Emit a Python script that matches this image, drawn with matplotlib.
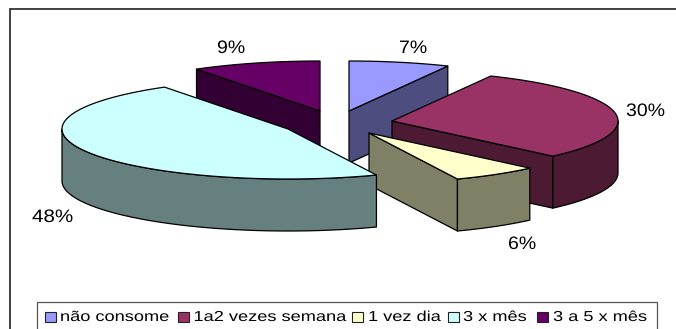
import numpy as np
import matplotlib
matplotlib.use("Agg")
import matplotlib.pyplot as plt
from matplotlib.patches import Polygon, Rectangle
from matplotlib.patheffects import AbstractPathEffect
from matplotlib.transforms import Affine2D

categories = ["não consome", "1a2 vezes semana", "1 vez dia", "3 x mês", "3 a 5 x mês"]
values = [7.2, 30.2, 6.2, 47.2, 9.2]
value_labels = ["7%", "30%", "6%", "48%", "9%"]

top_colors = ["#9999FF", "#993366", "#FFFFCC", "#CCFFFF", "#660066"]
side_colors = ["#4D4D80", "#4D1A33", "#808066", "#668080", "#330033"]

# layout, in pixels of the 676x329 picture
centers = [(349, 111), (392, 121), (369, 133), (288, 129), (320, 111)]
label_pos = [(399, 53), (626, 116), (508, 249), (32, 222), (217, 53)]
legend_swatch_x = [45, 178, 352, 448, 537]
legend_text_x = [60, 193.5, 368, 463, 553]
label_stretch = [1.08, 1.08, 1.08, 1.14, 1.08]
legend_stretch = [1.26, 1.26, 1.26, 1.26, 1.26]
RX, RY, DEPTH = 226, 50, 52


class StretchX(AbstractPathEffect):
    def __init__(self, sx):
        super().__init__()
        self.sx = sx

    def draw_path(self, renderer, gc, tpath, affine, rgbFace=None):
        renderer.draw_path(gc, tpath, Affine2D().scale(self.sx, 1) + affine, rgbFace)


plt.rcParams["font.family"] = ["Liberation Sans", "DejaVu Sans"]
fig = plt.figure(figsize=(6.76, 3.29), dpi=100, facecolor="white")
ax = fig.add_axes([0, 0, 1, 1])
ax.set_xlim(0, 676)
ax.set_ylim(329, 0)
ax.axis("off")

# chart frame: top and left only
ax.plot([676, 10, 10], [9, 9, 329], color="#333333", lw=1.3, solid_joinstyle="miter", zorder=1)


def pt(c, deg, dy=0.0):
    a = np.radians(deg)
    return c[0] + RX * np.sin(a), c[1] - RY * np.cos(a) + dy


def arc(c, a0, a1, dy=0.0):
    n = max(int(abs(a1 - a0)), 2) + 1
    return [pt(c, d, dy) for d in np.linspace(a0, a1, n)]


edge = dict(edgecolor="black", linewidth=0.9, joinstyle="round")
total = sum(values)
starts = np.cumsum([0] + values[:-1]) / total * 360
ends = np.cumsum(values) / total * 360
draw_order = [4, 0, 1, 2, 3]
z = 2
for i in draw_order:
    c, a0, a1 = centers[i], starts[i], ends[i]
    low = (c[0], c[1] + DEPTH)
    # radial cut faces that look towards the viewer
    if 180 < a0 < 360:
        ax.add_patch(Polygon([c, pt(c, a0), pt(c, a0, DEPTH), low], facecolor=side_colors[i], zorder=z, **edge))
    if 0 < a1 < 180:
        ax.add_patch(Polygon([c, pt(c, a1), pt(c, a1, DEPTH), low], facecolor=side_colors[i], zorder=z, **edge))
    # outer wall on the front half of the ellipse
    f0, f1 = max(a0, 90), min(a1, 270)
    if f1 > f0:
        ax.add_patch(Polygon(arc(c, f0, f1) + arc(c, f1, f0, DEPTH), facecolor=side_colors[i], zorder=z, **edge))
    # top face
    ax.add_patch(Polygon([c] + arc(c, a0, a1), facecolor=top_colors[i], zorder=z, **edge))
    z += 1

for txt, (x, y), s in zip(value_labels, label_pos, label_stretch):
    t = ax.text(x, y, txt, fontsize=13, color="black", ha="left", va="baseline", zorder=20)
    t.set_path_effects([StretchX(s)])

# legend box: runs off the bottom of the picture
ax.add_patch(Rectangle((37, 302), 620, 40, facecolor="white", edgecolor="#555555", linewidth=0.9, zorder=21))
for name, col, sx, tx, s in zip(categories, top_colors, legend_swatch_x, legend_text_x, legend_stretch):
    ax.add_patch(Rectangle((sx, 312), 11, 10, facecolor=col, edgecolor="#222222", linewidth=0.8, zorder=22))
    t = ax.text(tx, 321, name, fontsize=10.4, color="black", ha="left", va="baseline", zorder=22)
    t.set_path_effects([StretchX(s)])

fig.savefig("out.png", dpi=100, facecolor="white")
